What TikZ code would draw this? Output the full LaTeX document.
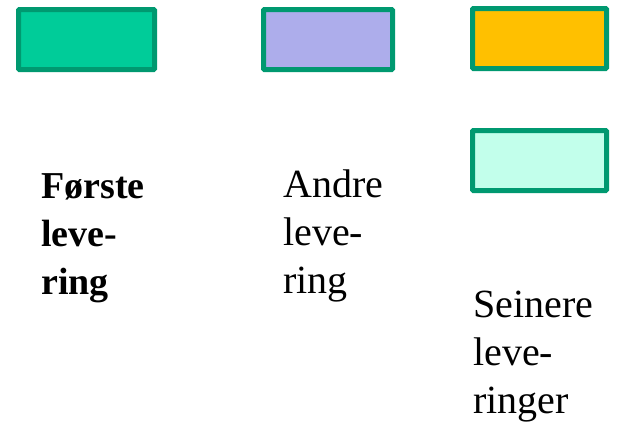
\documentclass[tikz,border=0pt]{standalone}
\usepackage{fontspec}
\setmainfont{Liberation Serif}
\definecolor{edgegreen}{RGB}{0,153,112}
\definecolor{fillA}{RGB}{0,204,153}
\definecolor{fillB}{RGB}{173,173,235}
\definecolor{fillC}{RGB}{255,192,0}
\definecolor{fillD}{RGB}{194,255,235}
\begin{document}
\begin{tikzpicture}[x=1pt,y=-1pt,
  swatch/.style={draw=edgegreen,line width=5pt,rounded corners=1pt},
  label/.style={anchor=base west,inner sep=0pt,align=left,font=\fontsize{40}{48}\selectfont}]
\useasboundingbox (0,0) rectangle (618,431);
\filldraw[swatch,fill=fillA] (18.5,9.5) rectangle (154.5,69.5);
\filldraw[swatch,fill=fillB] (263.5,9.5) rectangle (392.5,69.5);
\filldraw[swatch,fill=fillC] (472.5,8.5) rectangle (606.5,68.5);
\filldraw[swatch,fill=fillD] (472.5,130.5) rectangle (606.5,190.5);
\node[label,font=\fontsize{38}{48}\selectfont\bfseries] (forste) at (41,294) {Første\\leve-\\ring};
\node[label] (andre) at (283,293) {Andre\\leve-\\ring};
\node[label] (seinere) at (473,413) {Seinere\\leve-\\ringer};
\end{tikzpicture}
\end{document}
